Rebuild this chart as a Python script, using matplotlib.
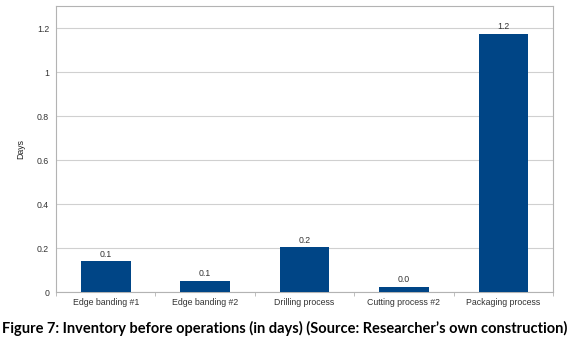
import numpy as np
import matplotlib.pyplot as plt

categories = ['Edge banding #1', 'Edge banding #2', 'Drilling process',
              'Cutting process #2', 'Packaging process']
days = [0.14, 0.051, 0.203, 0.023, 1.173]
value_labels = ['0.1', '0.1', '0.2', '0.0', '1.2']
yticks = [0, 0.2, 0.4, 0.6, 0.8, 1.0, 1.2]
ytick_labels = ['0', '0.2', '0.4', '0.6', '0.8', '1', '1.2']

plt.rcParams['font.family'] = ['Liberation Sans', 'DejaVu Sans']

fig = plt.figure(figsize=(5.76, 3.4), dpi=100)
ax = fig.add_axes([0.0972, 0.141, 0.863, 0.841])

x = np.arange(len(categories))
bars = ax.bar(x, days, width=0.5, color='#004586', zorder=3)
for b, lab in zip(bars, value_labels):
    ax.text(b.get_x() + b.get_width() / 2, b.get_height() + 0.012, lab,
            ha='center', va='bottom', fontsize=6.3, color='#333333')

ax.set_xlim(-0.5, len(categories) - 0.5)
ax.set_ylim(0, 1.3)
ax.set_yticks(yticks)
ax.set_yticklabels(ytick_labels)
ax.set_xticks(x)
ax.set_xticklabels(categories)
ax.set_xticks(np.arange(len(categories) + 1) - 0.5, minor=True)
ax.tick_params(axis='x', which='major', length=0, labelsize=6.3, colors='#333333', pad=4)
ax.tick_params(axis='x', which='minor', length=3, color='#b3b3b3')
ax.tick_params(axis='y', length=0, labelsize=6.3, colors='#333333', pad=5)
ax.grid(axis='y', color='#d0d0d0', linewidth=0.8, zorder=0)
for s in ax.spines.values():
    s.set_color('#b3b3b3')
    s.set_linewidth(0.8)
ax.set_ylabel('Days', fontsize=6.3, color='#222222', labelpad=8)

fig.text(0.004, 0.035, 'Figure 7: Inventory before operations (in days) (Source: Researcher\u2019s own construction)',
         fontsize=10.5, fontweight='bold', family=['Lato', 'DejaVu Sans'], ha='left', va='center')

fig.savefig('out.png', dpi=100, facecolor='w')
